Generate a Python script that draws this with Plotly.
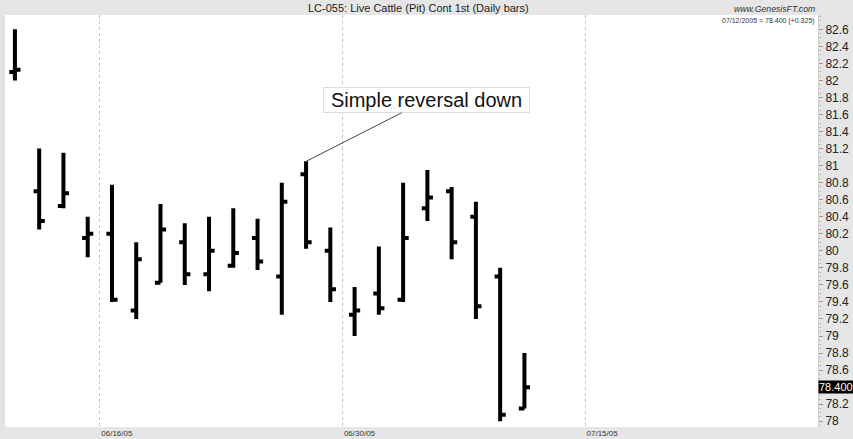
import plotly.graph_objects as go

# ---- data ----
dates = ["06/10/05", "06/13/05", "06/14/05", "06/15/05", "06/16/05", "06/17/05",
         "06/20/05", "06/21/05", "06/22/05", "06/23/05", "06/24/05", "06/27/05",
         "06/28/05", "06/29/05", "06/30/05", "07/01/05", "07/05/05", "07/06/05",
         "07/07/05", "07/08/05", "07/11/05", "07/12/05"]
future_sessions = ["07/13/05", "07/14/05", "07/15/05"]

opens = [82.100, 80.700, 80.525, 80.150, 80.200, 79.300, 79.625, 80.100, 79.725, 79.825, 80.150,
         79.700, 80.900, 80.000, 79.250, 79.500, 79.425, 80.500, 80.700, 80.400, 79.700, 78.150]
highs = [82.600, 81.200, 81.150, 80.400, 80.775, 80.100, 80.550, 80.325, 80.400, 80.500, 80.375,
         80.800, 81.050, 80.275, 79.575, 80.050, 80.800, 80.950, 80.750, 80.575, 79.800, 78.800]
lows = [82.000, 80.250, 80.500, 79.925, 79.400, 79.200, 79.625, 79.600, 79.525, 79.800, 79.775,
        79.250, 80.025, 79.400, 79.000, 79.250, 79.400, 80.350, 79.900, 79.200, 78.000, 78.150]
closes = [82.125, 80.350, 80.675, 80.200, 79.425, 79.900, 80.250, 79.725, 80.000, 79.975, 79.875,
          80.575, 80.100, 79.550, 79.300, 79.325, 80.150, 80.625, 80.100, 79.350, 78.075, 78.400]

grid_dates = ["06/16/05", "06/30/05", "07/15/05"]
y_ticks = [78.0, 78.2, 78.6, 78.8, 79.0, 79.2, 79.4, 79.6, 79.8, 80.0, 80.2, 80.4, 80.6,
           80.8, 81.0, 81.2, 81.4, 81.6, 81.8, 82.0, 82.2, 82.4, 82.6]
y_tick_text = ["78", "78.2", "78.6", "78.8", "79", "79.2", "79.4", "79.6", "79.8", "80", "80.2",
               "80.4", "80.6", "80.8", "81", "81.2", "81.4", "81.6", "81.8", "82", "82.2", "82.4", "82.6"]

title_text = "LC-055: Live Cattle (Pit) Cont 1st (Daily bars)"
source_text = "www.GenesisFT.com"
last_text = "07/12/2005 = 78.400 (+0.325)"
note_text = "Simple reversal down"
reversal_idx = 12

# ---- build ----
sessions = dates + future_sessions
x_idx = list(range(len(dates)))
grid_pos = [sessions.index(d) - 0.5 for d in grid_dates]

FONT = "Liberation Sans, Arial, Helvetica, sans-serif"

fig = go.Figure(go.Ohlc(
    x=x_idx, open=opens, high=highs, low=lows, close=closes,
    increasing=dict(line=dict(color="black", width=4)),
    decreasing=dict(line=dict(color="black", width=4)),
    tickwidth=0.23, hoverinfo="skip", showlegend=False,
))

fig.update_layout(
    width=853, height=439,
    margin=dict(l=4, r=35, t=15, b=12, pad=0),
    paper_bgcolor="#e6e6e6", plot_bgcolor="white",
    font=dict(family=FONT, color="#222"),
    showlegend=False,
    xaxis=dict(
        range=[-0.45, 33.1], rangeslider=dict(visible=False),
        tickvals=grid_pos, ticktext=grid_dates,
        showgrid=True, gridcolor="#c4c4c4", griddash="dot", gridwidth=1,
        zeroline=False, showline=False, ticks="",
        tickfont=dict(size=8, color="#333"), ticklabelshift=17, ticklabelstandoff=0,
        automargin=False, fixedrange=True,
    ),
    yaxis=dict(
        side="right", range=[77.932, 82.768],
        tickvals=y_ticks, ticktext=y_tick_text,
        ticks="outside", ticklen=4, tickcolor="#999", tickwidth=1,
        minor=dict(dtick=0.05, ticks="outside", ticklen=2, tickcolor="#bbb"),
        tickfont=dict(size=12, color="#222"),
        showgrid=False, zeroline=False, showline=True, linecolor="#cfcfcf", linewidth=1,
        automargin=False, fixedrange=True,
    ),
)

fig.add_shape(type="line", xref="paper", yref="paper", x0=0, x1=0, y0=0, y1=1,
              line=dict(color="#cfcfcf", width=1))

fig.add_annotation(text=title_text, xref="paper", yref="paper", x=0.509, y=1.017,
                   xanchor="center", yanchor="middle", showarrow=False,
                   font=dict(size=11, color="#222", family=FONT))
fig.add_annotation(text="<i>" + source_text + "</i>", xref="paper", yref="paper",
                   x=0.9988, y=1.0145, xanchor="right", yanchor="middle", showarrow=False,
                   font=dict(size=8.7, color="#333", family=FONT))
fig.add_annotation(text=last_text, xref="paper", yref="paper", x=0.9988, y=0.9854,
                   xanchor="right", yanchor="middle", showarrow=False,
                   font=dict(size=7, color="#333", family=FONT))
fig.add_annotation(text=f"{closes[-1]:.3f}", xref="paper", yref="y", x=1, y=closes[-1],
                   xanchor="left", yanchor="middle", xshift=0, showarrow=False,
                   bgcolor="black", borderpad=0,
                   font=dict(size=11, color="white", family=FONT))
fig.add_annotation(text=note_text, x=x_idx[reversal_idx], y=highs[reversal_idx],
                   xref="x", yref="y", ax=120, ay=-61,
                   showarrow=True, arrowhead=0, arrowwidth=1, arrowcolor="#444", standoff=0,
                   bgcolor="white", bordercolor="#dcdcdc", borderwidth=1, borderpad=0,
                   width=205, height=24,
                   font=dict(size=20, color="#111", family=FONT))

fig.write_html("out.html", config={"displayModeBar": False},
               post_script="document.body.style.margin='0';document.body.style.padding='0';")
